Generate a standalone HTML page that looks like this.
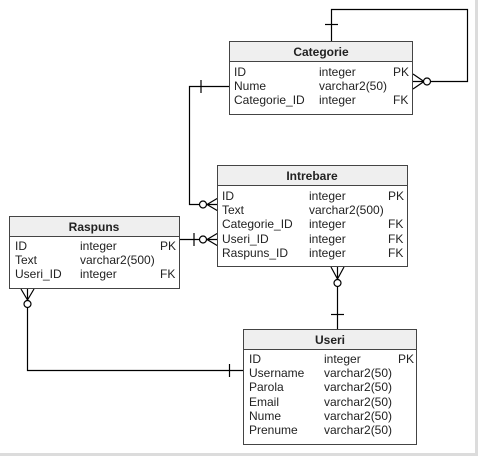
<!DOCTYPE html>
<html><head><meta charset="utf-8"><style>
html,body{margin:0;padding:0;background:#fff;}
svg{display:block;}
text{font-family:"Liberation Sans",Arial,sans-serif;font-size:12px;fill:#222;}
.h{font-weight:bold;text-anchor:middle;}
</style></head><body>
<svg width="478" height="456" viewBox="0 0 478 456" xmlns="http://www.w3.org/2000/svg">
<rect x="475" y="0" width="3" height="456" fill="#dcdcdc"/>
<rect x="0" y="453" width="478" height="3" fill="#dcdcdc"/>
<g fill="none" stroke="#000" stroke-width="1.2">
<path d="M331.5 41 V9.5 H467.5 V81.5 H431"/>
<path d="M325 24.5 H338"/>
<path d="M413 74 L424 81.5 L413 89 M413 81.5 H424"/>
<circle cx="427" cy="81.5" r="3.5" fill="#fff"/>
<path d="M229 86.5 H189.5 V204.5 H199"/>
<path d="M201 80 V93"/>
<path d="M218 198 L207 204.5 L218 211 M207 204.5 H218"/>
<circle cx="203" cy="204.5" r="3.5" fill="#fff"/>
<path d="M180 239.5 H199"/>
<path d="M194 233 V246"/>
<path d="M218 233 L207 239.5 L218 246 M207 239.5 H218"/>
<circle cx="203" cy="239.5" r="3.5" fill="#fff"/>
<path d="M337.5 287 V329"/>
<path d="M331 314.5 H344"/>
<path d="M331 267 L337.5 279 L344 267 M337.5 267 V279"/>
<circle cx="337.5" cy="283" r="3.5" fill="#fff"/>
<path d="M27.5 308 V370.5 H243"/>
<path d="M229.5 364 V377"/>
<path d="M21 289 L27.5 300 L34 289 M27.5 289 V300"/>
<circle cx="27.5" cy="304" r="3.5" fill="#fff"/>
</g>
<g stroke="#444" stroke-width="1">
<rect x="229.5" y="41.5" width="183" height="73" fill="#fff"/>
<rect x="229.5" y="41.5" width="183" height="20" fill="#efefef"/>
<rect x="217.5" y="165.5" width="190" height="101" fill="#fff"/>
<rect x="217.5" y="165.5" width="190" height="20" fill="#efefef"/>
<rect x="9.5" y="216.5" width="170" height="72" fill="#fff"/>
<rect x="9.5" y="216.5" width="170" height="20" fill="#efefef"/>
<rect x="243.5" y="329.5" width="173" height="115" fill="#fff"/>
<rect x="243.5" y="329.5" width="173" height="20" fill="#efefef"/>
</g>
<text class="h" x="321" y="56">Categorie</text>
<text x="234" y="76">ID</text><text x="319" y="76">integer</text><text x="393" y="76">PK</text>
<text x="234" y="90">Nume</text><text x="319" y="90">varchar2(50)</text>
<text x="234" y="104">Categorie_ID</text><text x="319" y="104">integer</text><text x="393" y="104">FK</text>

<text class="h" x="312" y="180">Intrebare</text>
<text x="222" y="200">ID</text><text x="309" y="200">integer</text><text x="388" y="200">PK</text>
<text x="222" y="214">Text</text><text x="309" y="214">varchar2(500)</text>
<text x="222" y="228">Categorie_ID</text><text x="309" y="228">integer</text><text x="388" y="228">FK</text>
<text x="222" y="243">Useri_ID</text><text x="309" y="243">integer</text><text x="388" y="243">FK</text>
<text x="222" y="257">Raspuns_ID</text><text x="309" y="257">integer</text><text x="388" y="257">FK</text>

<text class="h" x="94" y="231">Raspuns</text>
<text x="15" y="250">ID</text><text x="80" y="250">integer</text><text x="160" y="250">PK</text>
<text x="15" y="264">Text</text><text x="80" y="264">varchar2(500)</text>
<text x="15" y="278">Useri_ID</text><text x="80" y="278">integer</text><text x="160" y="278">FK</text>

<text class="h" x="330" y="344">Useri</text>
<text x="249" y="363">ID</text><text x="324" y="363">integer</text><text x="398" y="363">PK</text>
<text x="249" y="377">Username</text><text x="324" y="377">varchar2(50)</text>
<text x="249" y="391">Parola</text><text x="324" y="391">varchar2(50)</text>
<text x="249" y="406">Email</text><text x="324" y="406">varchar2(50)</text>
<text x="249" y="420">Nume</text><text x="324" y="420">varchar2(50)</text>
<text x="249" y="434">Prenume</text><text x="324" y="434">varchar2(50)</text>
</svg>
</body></html>
